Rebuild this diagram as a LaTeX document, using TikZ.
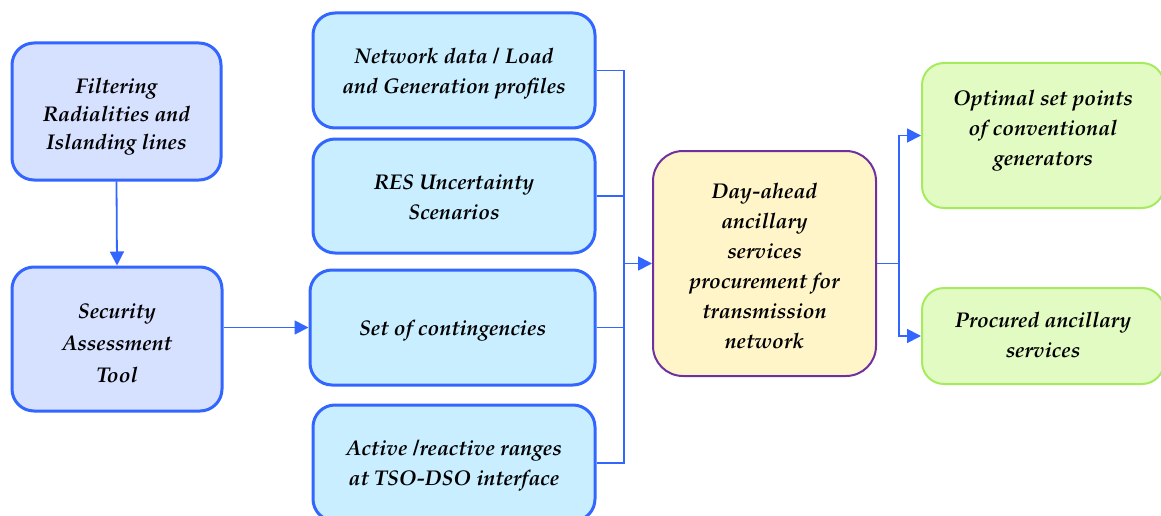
\documentclass[tikz,border=0pt]{standalone}
\usepackage[T1]{fontenc}
\usepackage{mathpazo}
\usetikzlibrary{arrows.meta}
\definecolor{bblue}{HTML}{3366FF}
\definecolor{lav}{HTML}{D6E0FF}
\definecolor{cyanf}{HTML}{C9EEFF}
\definecolor{yel}{HTML}{FFF5C9}
\definecolor{purp}{HTML}{7030A0}
\definecolor{grf}{HTML}{E2FBC2}
\definecolor{grb}{HTML}{A6EB5E}
\tikzset{
  txt/.style={font=\fontsize{21.3}{#1}\selectfont\bfseries\itshape, align=center, text=black, inner sep=0pt},
  txt/.default=30,
  leftbox/.style={draw=bblue, fill=lav, line width=3pt, rounded corners=22pt},
  midbox/.style={draw=bblue, fill=cyanf, line width=3pt, rounded corners=22pt},
  centbox/.style={draw=purp, fill=yel, line width=2pt, rounded corners=30pt},
  greenbox/.style={draw=grb, fill=grf, line width=2pt, rounded corners=22pt},
  conn/.style={draw=bblue, line width=1.8pt},
  arr/.style={conn, -{Triangle[length=14pt,width=14pt]}},
}
\begin{document}
\begin{tikzpicture}[x=1pt,y=-1pt]
\useasboundingbox (0,0) rectangle (1161,516);
% left boxes
\node[leftbox, minimum width=209pt, minimum height=137pt] (filt) at (116.5,111.5) {};
\node[txt=28.3, yshift=-5.4pt] (filtT) at (filt.center) {Filtering\\Radialities and\\Islanding lines};
\node[leftbox, minimum width=210pt, minimum height=144pt] (sec) at (117,339) {};
\node[txt=32, yshift=-4pt] (secT) at (sec.center) {Security\\Assessment\\Tool};
% middle boxes
\node[midbox, minimum width=282pt, minimum height=115pt] (net) at (454,70.5) {};
\node[txt, yshift=-3.2pt] (netT) at (net.center) {Network data / Load\\and Generation profiles};
\node[midbox, minimum width=282pt, minimum height=114pt] (res) at (454,196) {};
\node[txt, yshift=-1pt] (resT) at (res.center) {RES Uncertainty\\Scenarios};
\node[midbox, minimum width=285pt, minimum height=115pt] (cont) at (452.5,327.5) {};
\node[txt, yshift=-3pt] (contT) at (cont.center) {Set of contingencies};
\node[midbox, minimum width=282pt, minimum height=116pt] (act) at (454,463) {};
\node[txt, yshift=-3pt] (actT) at (act.center) {Active /reactive ranges\\at TSO-DSO interface};
% central
\node[centbox, minimum width=223pt, minimum height=225pt] (day) at (764.5,263.5) {};
\node[txt, yshift=-2.4pt] (dayT) at (day.center) {Day-ahead\\ancillary\\services\\procurement for\\transmission\\network};
% outputs
\node[greenbox, minimum width=242pt, minimum height=145pt] (opt) at (1043,135.5) {};
\node[txt, yshift=4.5pt] (optT) at (opt.center) {Optimal set points\\of conventional\\generators};
\node[greenbox, minimum width=242pt, minimum height=96pt] (proc) at (1043,336) {};
\node[txt, yshift=1pt] (procT) at (proc.center) {Procured ancillary\\services};
% bus coordinates
\coordinate (bus1) at (624,70.5);
\coordinate (bus4) at (624,463);
\coordinate (busm) at (624,263.5);
\coordinate (split) at (899,263.5);
\coordinate (splitT) at (899,135.5);
\coordinate (splitB) at (899,336);
% connectors
\draw[arr] (filt.south) -- (sec.north);
\draw[arr] (sec.east |- cont.west) -- (cont.west);
\draw[conn] (net.east) -- (bus1) -- (bus4) -- (act.east);
\draw[conn] (res.east) -- (res.east -| bus1);
\draw[conn] (cont.east) -- (cont.east -| bus1);
\draw[arr] (busm) -- (day.west);
\draw[conn] (day.east) -- (split);
\draw[arr] (splitB) -- (splitT) -- (opt.west);
\draw[arr] (split) -- (splitB) -- (proc.west);
\end{tikzpicture}
\end{document}
